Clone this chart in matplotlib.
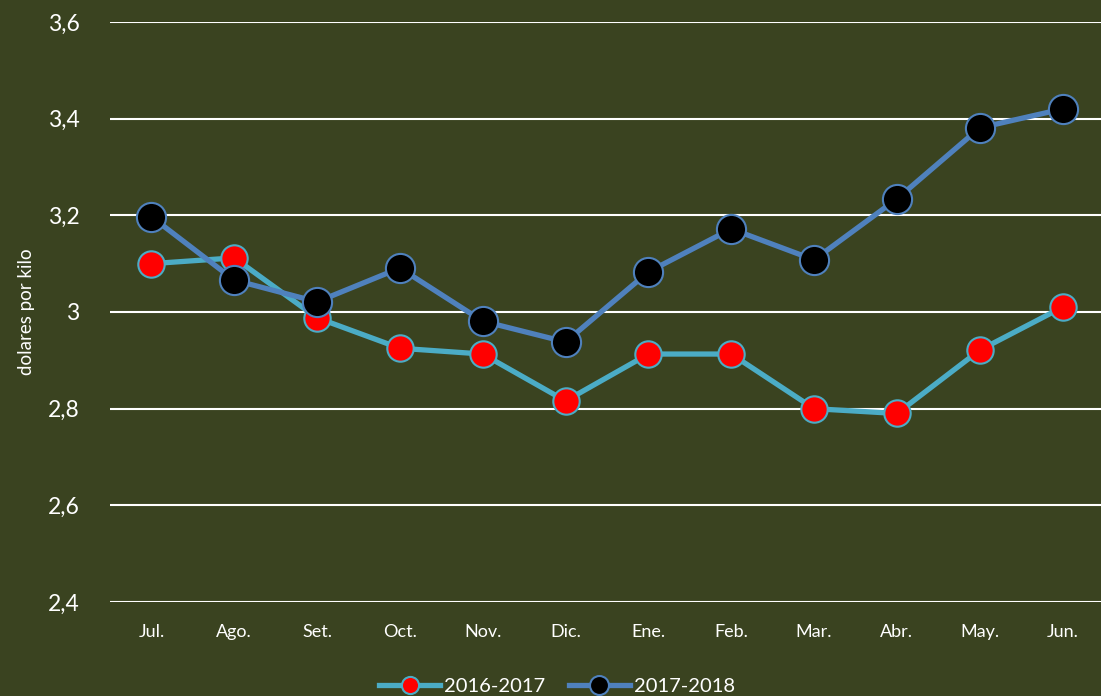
import matplotlib.pyplot as plt
from matplotlib.ticker import FixedLocator

# Data
months = ['Jul.', 'Ago.', 'Set.', 'Oct.', 'Nov.', 'Dic.', 'Ene.', 'Feb.',
          'Mar.', 'Abr.', 'May.', 'Jun.']
s_2016_2017 = [3.10, 3.112, 2.988, 2.925, 2.913, 2.816, 2.913, 2.913,
               2.80, 2.79, 2.921, 3.01]
s_2017_2018 = [3.197, 3.066, 3.021, 3.091, 2.981, 2.938, 3.083, 3.172,
               3.108, 3.234, 3.381, 3.42]
y_ticks = [2.4, 2.6, 2.8, 3.0, 3.2, 3.4, 3.6]
y_labels = ['2,4', '2,6', '2,8', '3', '3,2', '3,4', '3,6']

bg = '#3a4320'
plt.rcParams['font.family'] = ['Lato', 'DejaVu Sans']

fig = plt.figure(figsize=(11.01, 6.96), dpi=100, facecolor=bg)
ax = fig.add_axes([110 / 1101, 1 - 602 / 696, 994 / 1101, 580 / 696])
ax.set_facecolor(bg)

x = list(range(len(months)))
ax.plot(x, s_2016_2017, color='#4bacc6', lw=3.8, marker='o', ms=19,
        mfc='#ff0000', mec='#4bacc6', mew=1.5, label='2016-2017', zorder=3)
ax.plot(x, s_2017_2018, color='#4f81bd', lw=3.8, marker='o', ms=21,
        mfc='#000000', mec='#4f81bd', mew=1.5, label='2017-2018', zorder=4)

ax.set_xlim(-0.5, len(months) - 0.5)
ax.set_ylim(2.4, 3.6)
ax.yaxis.set_major_locator(FixedLocator(y_ticks))
ax.set_yticklabels(y_labels)
ax.set_xticks(x)
ax.set_xticklabels(months)
ax.grid(axis='y', color='white', lw=1.5)
ax.set_axisbelow(True)
for sp in ax.spines.values():
    sp.set_visible(False)
ax.tick_params(axis='y', length=0, pad=22, labelsize=16.5, labelcolor='white')
ax.tick_params(axis='x', length=0, pad=16, labelsize=13, labelcolor='white')
ax.set_ylabel('dolares por kilo', color='white', fontsize=13.5, labelpad=9)

leg = ax.legend(loc='center', bbox_to_anchor=(557 / 1101, 10 / 696),
                bbox_transform=fig.transFigure, ncol=2, frameon=False,
                fontsize=14.5, labelcolor='white', handlelength=3.0,
                handletextpad=0.2, columnspacing=1.2, markerscale=0.65)

fig.savefig('out.png', dpi=100, facecolor=bg)
